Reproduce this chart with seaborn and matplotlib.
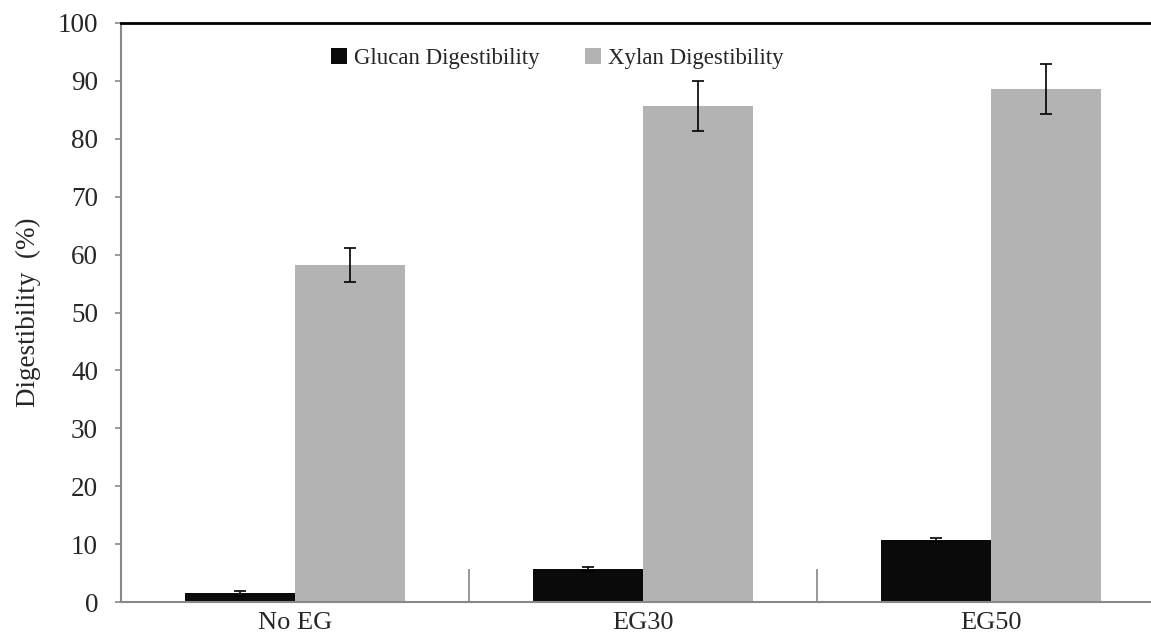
import matplotlib
matplotlib.use("Agg")
import matplotlib.pyplot as plt
import seaborn as sns
import pandas as pd
import numpy as np
from matplotlib.patches import Patch

# Enzymatic digestibility by endoglucanase dose
categories = ["No EG", "EG30", "EG50"]
series = ["Glucan Digestibility", "Xylan Digestibility"]
glucan = [1.5, 5.7, 10.7]
glucan_err = [0.4, 0.35, 0.4]
xylan = [58.2, 85.7, 88.6]
xylan_err = [2.9, 4.3, 4.4]
yticks = [0, 10, 20, 30, 40, 50, 60, 70, 80, 90, 100]
colors = ["#0a0a0a", "#b3b3b3"]

sns.set_style("white")
plt.rcParams["font.family"] = ["Liberation Serif", "DejaVu Serif"]

df = pd.DataFrame({
    "cat": categories * 2,
    "series": [series[0]] * 3 + [series[1]] * 3,
    "val": glucan + xylan,
    "err": glucan_err + xylan_err,
})

fig = plt.figure(figsize=(11.51, 6.39), dpi=100)
ax = fig.add_axes([121 / 1151, 1 - 602 / 639, 1044 / 1151, (602 - 23) / 639])

sns.barplot(data=df, x="cat", y="val", hue="series", order=categories,
            hue_order=series, palette=colors, width=0.63, gap=0,
            errorbar=None, saturation=1, edgecolor="none", linewidth=0,
            legend=False, ax=ax)

# error bars on top of each bar
errs = glucan_err + xylan_err
for patch, e in zip(ax.patches, errs):
    xc = patch.get_x() + patch.get_width() / 2
    h = patch.get_height()
    ax.errorbar(xc, h, yerr=e, fmt="none", ecolor="black",
                elinewidth=1.2, capsize=4.5, capthick=1.2, zorder=5)

ax.set_xlim(-0.5, 2.5)
ax.set_ylim(0, 100)
ax.set_yticks(yticks)
ax.set_yticklabels([str(t) for t in yticks])
ax.set_xlabel("")
ax.set_ylabel("Digestibility  (%)", fontsize=19.5, labelpad=12)

ax.tick_params(axis="y", which="major", direction="out", length=4.5,
               width=1.2, color="#888888", pad=12, labelsize=19.5, left=True)
ax.tick_params(axis="x", which="major", length=0, pad=7, labelsize=19)
ax.set_xticks([0.5, 1.5], minor=True)
ax.tick_params(axis="x", which="minor", direction="in", length=24,
               width=1.2, color="#888888", bottom=True)

for side in ["left", "bottom"]:
    ax.spines[side].set_color("#888888")
    ax.spines[side].set_linewidth(1.5)
ax.spines["top"].set_color("black")
ax.spines["top"].set_linewidth(2.0)
ax.spines["right"].set_visible(False)

handles = [Patch(facecolor=c, edgecolor="none") for c in colors]
fig.legend(handles, series, loc="center", bbox_to_anchor=(0.484, 0.909),
           ncol=2, frameon=False, fontsize=16.5, handlelength=0.7,
           handleheight=0.7, handletextpad=0.3, columnspacing=2.0)

fig.savefig("out.png", dpi=100)
